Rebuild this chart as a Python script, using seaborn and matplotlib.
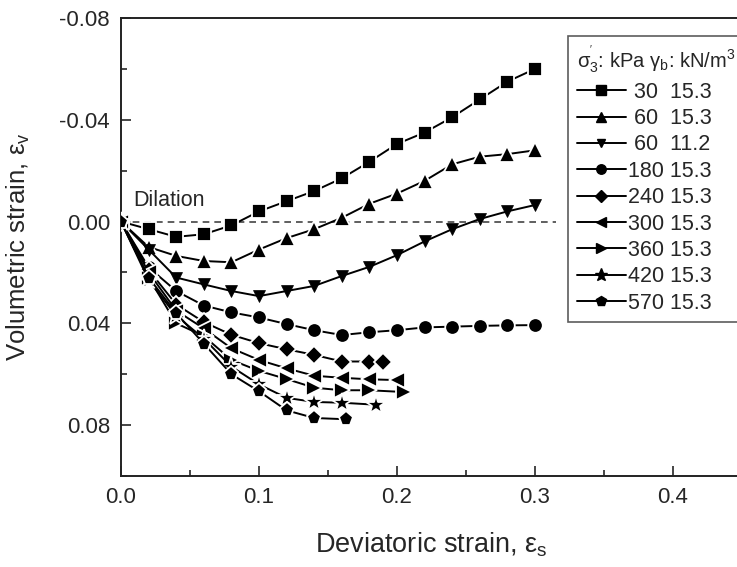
import numpy as np
import pandas as pd
import matplotlib
matplotlib.use('Agg')
import matplotlib.pyplot as plt
from matplotlib.lines import Line2D
import seaborn as sns

# 데이터
strain_long = [0, 0.02, 0.04, 0.06, 0.08, 0.10, 0.12, 0.14, 0.16, 0.18, 0.20, 0.22, 0.24, 0.26, 0.28, 0.30]
vol_30_153 = [0, 0.003, 0.006, 0.005, 0.0015, -0.004, -0.008, -0.012, -0.017, -0.0235, -0.0305, -0.035, -0.041, -0.048, -0.055, -0.060]
vol_60_153 = [0, 0.010, 0.0135, 0.0155, 0.016, 0.011, 0.0065, 0.003, -0.0015, -0.007, -0.011, -0.016, -0.0225, -0.0255, -0.0265, -0.028]
vol_60_112 = [0, 0.011, 0.022, 0.0247, 0.0273, 0.0293, 0.0273, 0.0253, 0.0214, 0.0178, 0.0132, 0.0078, 0.0030, -0.001, -0.004, -0.0065]
vol_180 = [0, 0.018, 0.0273, 0.033, 0.0357, 0.0377, 0.0403, 0.0427, 0.0446, 0.0435, 0.0427, 0.0416, 0.0413, 0.041, 0.0408, 0.0407]

strain_240 = [0, 0.02, 0.04, 0.06, 0.08, 0.10, 0.12, 0.14, 0.16, 0.18, 0.19]
vol_240 = [0, 0.019, 0.0326, 0.0395, 0.0445, 0.0478, 0.0502, 0.0524, 0.055, 0.055, 0.055]
strain_300 = [0, 0.02, 0.04, 0.06, 0.08, 0.10, 0.12, 0.14, 0.16, 0.18, 0.20]
vol_300 = [0, 0.020, 0.035, 0.042, 0.0498, 0.0544, 0.0577, 0.0606, 0.0614, 0.062, 0.0623]
strain_360 = [0, 0.02, 0.04, 0.06, 0.08, 0.10, 0.12, 0.14, 0.16, 0.18, 0.205]
vol_360 = [0, 0.022, 0.040, 0.045, 0.0544, 0.0587, 0.0619, 0.0653, 0.0663, 0.0663, 0.067]
strain_420 = [0, 0.02, 0.04, 0.06, 0.08, 0.10, 0.12, 0.14, 0.16, 0.185]
vol_420 = [0, 0.023, 0.037, 0.046, 0.057, 0.064, 0.0693, 0.0709, 0.0712, 0.072]
strain_570 = [0, 0.02, 0.04, 0.06, 0.08, 0.10, 0.12, 0.14, 0.163]
vol_570 = [0, 0.022, 0.036, 0.048, 0.060, 0.0667, 0.0742, 0.0772, 0.0777]

labels = [' 30  15.3', ' 60  15.3', ' 60  11.2', '180 15.3', '240 15.3',
          '300 15.3', '360 15.3', '420 15.3', '570 15.3']
markers = ['s', '^', 'v', 'o', 'D', '<', '>', '*', 'p']
sizes = [10, 11, 9, 10.5, 9, 11, 11, 15, 11]

series = [
    (strain_long, vol_30_153),
    (strain_long, vol_60_153),
    (strain_long, vol_60_112),
    (strain_long, vol_180),
    (strain_240, vol_240),
    (strain_300, vol_300),
    (strain_360, vol_360),
    (strain_420, vol_420),
    (strain_570, vol_570),
]

dilation_x = [0, 0.315]
dilation_y = [0, 0]

sns.set_style('ticks')
plt.rcParams['font.family'] = ['Liberation Sans', 'DejaVu Sans']
plt.rcParams['mathtext.fontset'] = 'custom'
plt.rcParams['mathtext.rm'] = 'Liberation Sans'
plt.rcParams['mathtext.it'] = 'Liberation Sans:italic'
plt.rcParams['axes.unicode_minus'] = False

fig = plt.figure(figsize=(7.37, 5.67), dpi=100)
ax = fig.add_axes([121 / 737, (567 - 476) / 567, 621 / 737, 458 / 567])

# 기준선 (y = 0)
ax.plot(dilation_x, dilation_y, color='#444444', lw=1.2, ls=(0, (4, 3)), zorder=1)

for i, ((xs, ys), m, s) in enumerate(zip(series, markers, sizes)):
    # 60/11.2 곡선은 마커 주변 간격 없이 이어짐
    edge = 'black' if i == 2 else 'white'
    sns.lineplot(x=xs, y=ys, ax=ax, color='black', lw=1.4, marker=m, markersize=s,
                 markeredgecolor=edge, markeredgewidth=1.3 if i != 2 else 0.5,
                 sort=False, estimator=None, zorder=3)

ax.text(0.0087, -0.0083, 'Dilation', fontsize=15.5, va='center', ha='left')

ax.set_xlim(0, 0.45)
ax.set_ylim(0.10, -0.08)
ax.set_xticks([0.0, 0.1, 0.2, 0.3, 0.4])
ax.set_xticklabels(['0.0', '0.1', '0.2', '0.3', '0.4'])
ax.set_xticks([0.05, 0.15, 0.25, 0.35, 0.45], minor=True)
ax.set_yticks([-0.08, -0.04, 0.00, 0.04, 0.08])
ax.set_yticklabels(['-0.08', '-0.04', '0.00', '0.04', '0.08'])
ax.set_yticks([-0.06, -0.02, 0.02, 0.06, 0.10], minor=True)
ax.tick_params(which='major', direction='in', length=7, width=1.2, labelsize=16, pad=8)
ax.tick_params(which='minor', direction='in', length=4, width=1.2)
for sp in ax.spines.values():
    sp.set_linewidth(1.4)
    sp.set_color('#222222')

ax.set_xlabel('Deviatoric strain, ε$_{\\mathregular{s}}$', fontsize=19.5)
ax.set_ylabel('Volumetric strain, ε$_{\\mathregular{v}}$', fontsize=18.5)
ax.xaxis.set_label_coords(0.5, -0.118)
ax.yaxis.set_label_coords(-0.143, 0.5)

handles = [Line2D([], [], color='black', lw=1.4, marker=m, markersize=s * 0.65)
           for m, s in zip(markers, sizes)]
title = ('σ$_{\\mathregular{3}}^{\\mathregular{\'}}$: kPa '
         'γ$_{\\mathregular{b}}$: kN/m$^{\\mathregular{3}}$')
leg = ax.legend(handles, labels, title=title, loc='upper left',
                bbox_to_anchor=((568 - 121) / 621, (476 - 36) / 458),
                borderaxespad=0, fontsize=15.5, title_fontsize=14.5,
                frameon=True, fancybox=False, edgecolor='#333333',
                handlelength=2.3, handletextpad=0.1, labelspacing=0.25,
                borderpad=0.4, alignment='left')
leg.get_frame().set_linewidth(1.2)

fig.savefig('out.png', dpi=100)
